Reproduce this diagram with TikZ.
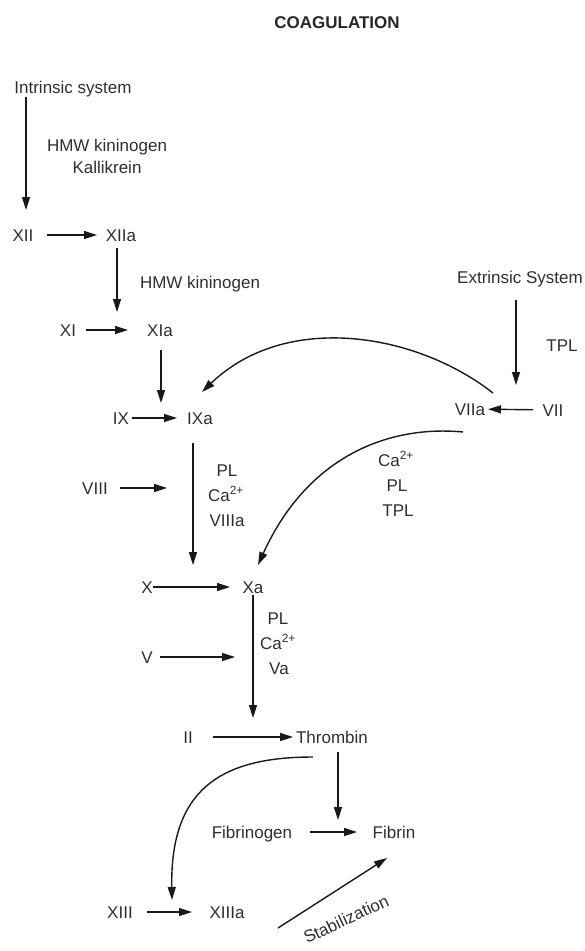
\documentclass[tikz,border=0pt]{standalone}
\usepackage{fontspec}
\setmainfont{Liberation Sans}
\usetikzlibrary{arrows.meta,calc}
\begin{document}
\begin{tikzpicture}[x=1pt,y=-1pt,
  lbl/.style={inner sep=0pt, text height=12.2pt, text depth=0pt, font=\fontsize{17}{20}\selectfont, text=black!82},
  ttl/.style={inner sep=0pt, text height=12.2pt, text depth=0pt, font=\fontsize{17}{20}\selectfont\bfseries, text=black!85},
  arr/.style={line width=1.4pt, draw=black!90, -{Triangle[length=13pt,width=8pt]}},
]
\useasboundingbox (0,0) rectangle (585,951);
% nodes
\node[ttl] (title) at (337,22) {COAGULATION};
\node[lbl] (intr) at (73,87) {Intrinsic system};
\node[lbl] (hmw1) at (107,145) {HMW kininogen};
\node[lbl] (kal) at (107,167) {Kallikrein};
\node[lbl] (XII) at (23,235) {XII};
\node[lbl] (XIIa) at (121,235) {XIIa};
\node[lbl] (hmw2) at (200,282) {HMW kininogen};
\node[lbl] (XI) at (68,330) {XI};
\node[lbl] (XIa) at (160,330) {XIa};
\node[lbl] (IX) at (121,418) {IX};
\node[lbl] (IXa) at (200,418) {IXa};
\node[lbl] (VIII) at (95,488) {VIII};
\node[lbl] (pl1) at (227,470) {PL};
\node[lbl] (ca1) at (226,495) {Ca\textsuperscript{2+}};
\node[lbl] (v8a) at (227,520) {VIIIa};
\node[lbl] (X) at (147,587) {X};
\node[lbl] (Xa) at (253,587) {Xa};
\node[lbl] (pl2) at (278,618) {PL};
\node[lbl] (ca2) at (278,643) {Ca\textsuperscript{2+}};
\node[lbl] (va) at (279,668) {Va};
\node[lbl] (V) at (147,657) {V};
\node[lbl] (II) at (188,737) {II};
\node[lbl] (Thr) at (332,737) {Thrombin};
\node[lbl] (Fbg) at (252,832) {Fibrinogen};
\node[lbl] (Fib) at (394,832) {Fibrin};
\node[lbl] (XIII) at (120,912) {XIII};
\node[lbl] (XIIIa) at (227,912) {XIIIa};
\node[lbl, rotate=25] (stab) at (346,919) {Stabilization};
\node[lbl] (ext) at (520,277) {Extrinsic System};
\node[lbl] (TPL) at (562,345) {TPL};
\node[lbl] (VIIa) at (470,409) {VIIa};
\node[lbl] (VII) at (553,410) {VII};
\node[lbl] (ca3) at (396,460) {Ca\textsuperscript{2+}};
\node[lbl] (pl3) at (397,485) {PL};
\node[lbl] (tpl3) at (398,510) {TPL};
\coordinate (j1) at (167,488);
\coordinate (j2) at (235,657);
% horizontal arrows
\draw[arr, shorten <=24pt, shorten >=24pt] (XII.center) -- (XIIa.center);
\draw[arr, shorten <=18pt, shorten >=32pt] (XI.center) -- (XIa.center);
\draw[arr, shorten <=11pt, shorten >=23pt] (IX.center) -- (IXa.center);
\draw[arr, shorten <=25pt] (VIII.center) -- (j1);
\draw[arr, shorten <=6pt, shorten >=23pt] (X.center) -- (Xa.center);
\draw[arr, shorten <=13pt] (V.center) -- (j2);
\draw[arr, shorten <=25pt, shorten >=39pt] (II.center) -- (Thr.center);
\draw[arr, shorten <=58pt, shorten >=37pt] (Fbg.center) -- (Fib.center);
\draw[arr, shorten <=27pt, shorten >=35pt] (XIII.center) -- (XIIIa.center);
\draw[arr, shorten <=20pt, shorten >=18pt] (VII.center) -- (VIIa.center);
% vertical arrows
\draw[arr, shorten <=10pt, shorten >=25pt] ($(intr.center)+(-47,0)$) -- ($(intr.center|-XII.center)+(-47,0)$);
\draw[arr, shorten <=13pt, shorten >=18pt] ($(XIIa.center)+(-4,0)$) -- ($(XIIa.center|-XIa.center)+(-4,0)$);
\draw[arr, shorten <=20pt, shorten >=15pt] ($(XIa.center)+(1,0)$) -- ($(XIa.center|-IXa.center)+(1,0)$);
\draw[arr, shorten <=25pt, shorten >=22pt] ($(IXa.center)+(-7,0)$) -- ($(IXa.center|-Xa.center)+(-7,0)$);
\draw[arr, shorten <=8pt, shorten >=19pt] (Xa.center) -- (Xa.center|-Thr.center);
\draw[arr, shorten <=15pt, shorten >=12pt] ($(Thr.center)+(6,0)$) -- ($(Thr.center|-Fib.center)+(6,0)$);
\draw[arr, shorten <=23pt, shorten >=24pt] ($(ext.center)+(-4,0)$) -- ($(ext.center|-VIIa.center)+(-4,0)$);
% curved arrows
\draw[arr] ($(VIIa.center)+(23,-16)$) .. controls (415,332) and (285,312) .. ($(IXa.center)+(2,-26)$);
\draw[arr] ($(VIIa.center)+(-7,23)$) .. controls (390,425) and (308,455) .. ($(Xa.center)+(5,-22)$);
\draw[arr] ($(Thr.center)+(-19,20)$) .. controls (220,757) and (170,790) .. ($(XIIIa.center)+(-55,-12)$);
\draw[arr] ($(XIIIa.center)+(51,16)$) -- ($(Fib.center)+(-7,26)$);
\end{tikzpicture}
\end{document}
